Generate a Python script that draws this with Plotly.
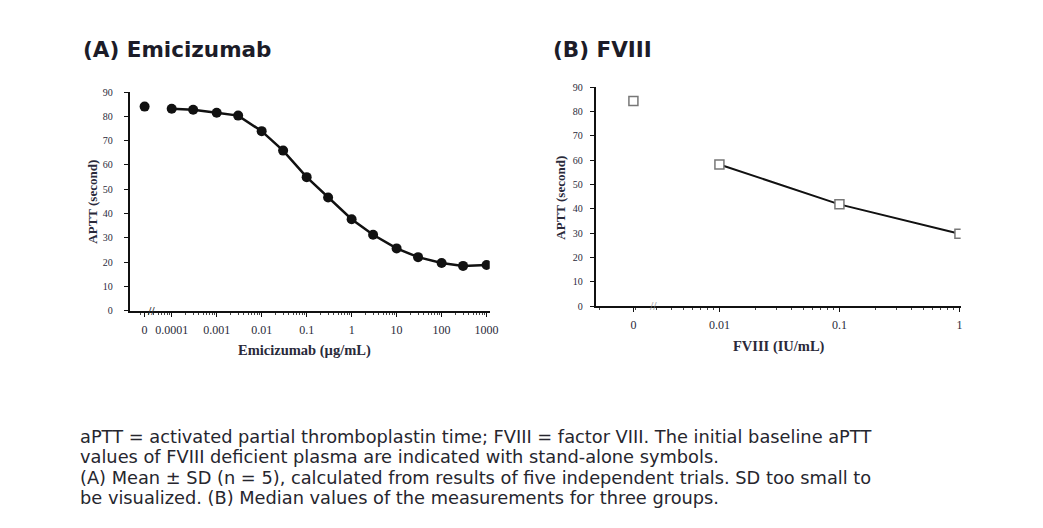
import plotly.graph_objects as go

# ---------------- data ----------------
emi_conc = [0.0001, 0.0003, 0.001, 0.003, 0.01, 0.03, 0.1, 0.3, 1, 3, 10, 30, 100, 300, 1000]
emi_aptt = [83.1, 82.7, 81.5, 80.3, 73.9, 65.9, 55.0, 46.6, 37.7, 31.3, 25.7, 22.1, 19.7, 18.5, 18.9]
emi_baseline_aptt = 84.0

fviii_conc = [0.01, 0.1, 1]
fviii_aptt = [58.2, 41.8, 29.7]
fviii_baseline_aptt = 84.3

emi_tick_labels = ["0", "0.0001", "0.001", "0.01", "0.1", "1", "10", "100", "1000"]
fviii_tick_labels = ["0", "0.01", "0.1", "1"]
y_ticks = [0, 10, 20, 30, 40, 50, 60, 70, 80, 90]

# plotting position used for the "0" concentration on the log axes
EMI_ZERO_POS = 2.5e-5
FVIII_ZERO_POS = 1.92e-3

emi_tick_vals = [EMI_ZERO_POS, 1e-4, 1e-3, 1e-2, 1e-1, 1, 10, 100, 1000]
fviii_tick_vals = [FVIII_ZERO_POS, 0.01, 0.1, 1]

W, H = 1043, 528

fig = go.Figure()

# Panel A
fig.add_trace(go.Scatter(x=emi_conc, y=emi_aptt, mode="lines+markers",
                         line=dict(color="#111111", width=2.5),
                         marker=dict(symbol="circle", size=10, color="#111111"),
                         xaxis="x", yaxis="y", showlegend=False))
fig.add_trace(go.Scatter(x=[EMI_ZERO_POS], y=[emi_baseline_aptt], mode="markers",
                         marker=dict(symbol="circle", size=10, color="#111111"),
                         xaxis="x", yaxis="y", showlegend=False))
# Panel B
fig.add_trace(go.Scatter(x=fviii_conc, y=fviii_aptt, mode="lines+markers",
                         line=dict(color="#111111", width=2),
                         marker=dict(symbol="square", size=9, color="white",
                                     line=dict(color="#777777", width=1.5)),
                         xaxis="x2", yaxis="y2", showlegend=False))
fig.add_trace(go.Scatter(x=[FVIII_ZERO_POS], y=[fviii_baseline_aptt], mode="markers",
                         marker=dict(symbol="square", size=9, color="white",
                                     line=dict(color="#777777", width=1.5)),
                         xaxis="x2", yaxis="y2", showlegend=False))

x_tick_font = dict(family="Liberation Serif", size=12, color="#2a2a3a")
y_tick_font = dict(family="Liberation Serif", size=10, color="#2a2a3a")
axis_common = dict(showline=True, linecolor="#111111", linewidth=2, showgrid=False,
                   zeroline=False, ticks="outside",
                   tickcolor="#111111", ticklen=4, tickwidth=1)

A_x0, A_x1 = 131 / W, 494 / W
A_y0, A_y1 = 1 - 312 / H, 1 - 88 / H
B_x0, B_x1 = 601 / W, 969 / W
B_y0, B_y1 = 1 - 307 / H, 1 - 83 / H

fig.update_layout(
    width=W, height=H, margin=dict(l=0, r=0, t=0, b=0),
    paper_bgcolor="white", plot_bgcolor="white",
    xaxis=dict(domain=[A_x0, A_x1], anchor="y", type="log", range=[-4.93, 3.07],
               tickmode="array", tickvals=emi_tick_vals, ticktext=emi_tick_labels,
               tickfont=x_tick_font, ticklabelstandoff=3,
               minor=dict(ticks="outside", ticklen=2, tickcolor="#444444", dtick="D1"),
               **axis_common),
    yaxis=dict(domain=[A_y0, A_y1], anchor="x", range=[0, 90],
               tickmode="array", tickvals=y_ticks, tickfont=y_tick_font,
               ticklabelstandoff=9, **axis_common),
    xaxis2=dict(domain=[B_x0, B_x1], anchor="y2", type="log", range=[-3.03, 0.01],
                tickmode="array", tickvals=fviii_tick_vals, ticktext=fviii_tick_labels,
                tickfont=x_tick_font, ticklabelstandoff=3,
                minor=dict(ticks="outside", ticklen=2, tickcolor="#444444", dtick="D1"),
                **axis_common),
    yaxis2=dict(domain=[B_y0, B_y1], anchor="x2", range=[0, 90],
                tickmode="array", tickvals=y_ticks, tickfont=y_tick_font,
                ticklabelstandoff=5, **axis_common),
)

ann = []
title_font = dict(family="DejaVu Sans", size=21.5, color="#1c1c28")
ann.append(dict(text="<b>(A) Emicizumab</b>", x=82 / W, y=1 - 45 / H, xref="paper", yref="paper",
                xanchor="left", yanchor="middle", showarrow=False, font=title_font))
ann.append(dict(text="<b>(B) FVIII</b>", x=556 / W, y=1 - 45 / H, xref="paper", yref="paper",
                xanchor="left", yanchor="middle", showarrow=False, font=title_font))

ylab_font = dict(family="Liberation Serif", size=13, color="#2a2a3a")
xlab_font = dict(family="Liberation Serif", size=14.5, color="#2a2a3a")
ann.append(dict(text="<b>APTT (second)</b>", x=93 / W, y=1 - 200 / H, xref="paper", yref="paper",
                textangle=-90, showarrow=False, font=ylab_font, xanchor="center", yanchor="middle"))
ann.append(dict(text="<b>APTT (second)</b>", x=565 / W, y=1 - 196 / H, xref="paper", yref="paper",
                textangle=-90, showarrow=False, font=ylab_font, xanchor="center", yanchor="middle"))
ann.append(dict(text="<b>Emicizumab (µg/mL)</b>", x=307 / W, y=1 - 352 / H, xref="paper", yref="paper",
                showarrow=False, font=xlab_font, xanchor="center", yanchor="middle"))
ann.append(dict(text="<b>FVIII (IU/mL)</b>", x=786 / W, y=1 - 348 / H, xref="paper", yref="paper",
                showarrow=False, font=xlab_font, xanchor="center", yanchor="middle"))

# axis break marks (annotation x in log10 units on log axes)
ann.append(dict(text="<b>//</b>", x=-4.45, y=0, xref="x", yref="y", showarrow=False,
                font=dict(family="Liberation Serif", size=12, color="#333333"),
                xanchor="center", yanchor="middle"))
ann.append(dict(text="//", x=-2.55, y=0, xref="x2", yref="y2", showarrow=False,
                font=dict(family="Liberation Serif", size=12, color="#888888"),
                xanchor="center", yanchor="middle"))

caption = [
    "aPTT = activated partial thromboplastin time; FVIII = factor VIII. The initial baseline aPTT",
    "values of FVIII deficient plasma are indicated with stand-alone symbols.",
    "(A) Mean ± SD (n = 5), calculated from results of five independent trials. SD too small to",
    "be visualized. (B) Median values of the measurements for three groups.",
]
cap_y = [440, 461, 482, 503]
for line, yy in zip(caption, cap_y):
    ann.append(dict(text=line, x=80 / W, y=1 - yy / H, xref="paper", yref="paper",
                    xanchor="left", yanchor="middle", showarrow=False, borderpad=0,
                    font=dict(family="DejaVu Sans", size=17.8, color="#26262e")))

fig.update_layout(annotations=ann)
fig.write_html("out.html")
